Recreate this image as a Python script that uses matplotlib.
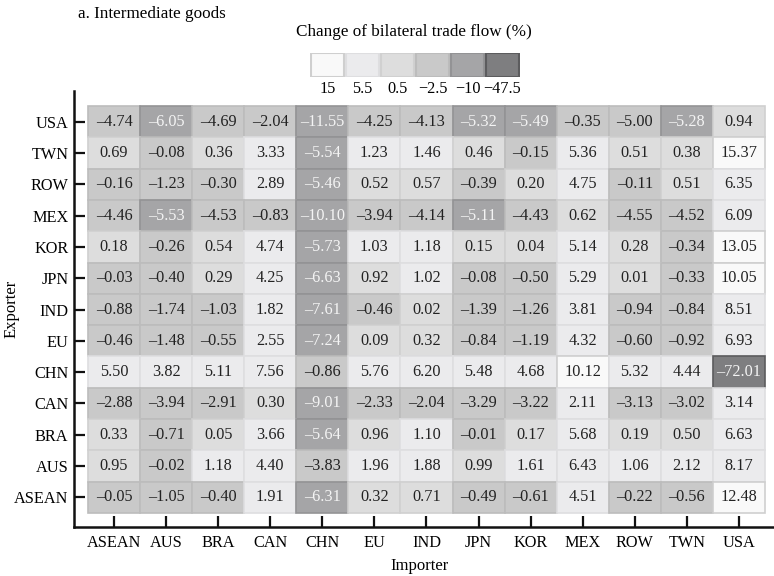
import numpy as np
import matplotlib
matplotlib.use("Agg")
import matplotlib.pyplot as plt

plt.rcParams['font.family'] = ['Liberation Serif', 'DejaVu Serif']

# countries (importer columns, exporter rows listed top to bottom)
importers = ["ASEAN", "AUS", "BRA", "CAN", "CHN", "EU", "IND", "JPN", "KOR", "MEX", "ROW", "TWN", "USA"]
exporters = ["USA", "TWN", "ROW", "MEX", "KOR", "JPN", "IND", "EU", "CHN", "CAN", "BRA", "AUS", "ASEAN"]

values = [
    [-4.74, -6.05, -4.69, -2.04, -11.55, -4.25, -4.13, -5.32, -5.49, -0.35, -5.00, -5.28, 0.94],
    [0.69, -0.08, 0.36, 3.33, -5.54, 1.23, 1.46, 0.46, -0.15, 5.36, 0.51, 0.38, 15.37],
    [-0.16, -1.23, -0.30, 2.89, -5.46, 0.52, 0.57, -0.39, 0.20, 4.75, -0.11, 0.51, 6.35],
    [-4.46, -5.53, -4.53, -0.83, -10.10, -3.94, -4.14, -5.11, -4.43, 0.62, -4.55, -4.52, 6.09],
    [0.18, -0.26, 0.54, 4.74, -5.73, 1.03, 1.18, 0.15, 0.04, 5.14, 0.28, -0.34, 13.05],
    [-0.03, -0.40, 0.29, 4.25, -6.63, 0.92, 1.02, -0.08, -0.50, 5.29, 0.01, -0.33, 10.05],
    [-0.88, -1.74, -1.03, 1.82, -7.61, -0.46, 0.02, -1.39, -1.26, 3.81, -0.94, -0.84, 8.51],
    [-0.46, -1.48, -0.55, 2.55, -7.24, 0.09, 0.32, -0.84, -1.19, 4.32, -0.60, -0.92, 6.93],
    [5.50, 3.82, 5.11, 7.56, -0.86, 5.76, 6.20, 5.48, 4.68, 10.12, 5.32, 4.44, -72.01],
    [-2.88, -3.94, -2.91, 0.30, -9.01, -2.33, -2.04, -3.29, -3.22, 2.11, -3.13, -3.02, 3.14],
    [0.33, -0.71, 0.05, 3.66, -5.64, 0.96, 1.10, -0.01, 0.17, 5.68, 0.19, 0.50, 6.63],
    [0.95, -0.02, 1.18, 4.40, -3.83, 1.96, 1.88, 0.99, 1.61, 6.43, 1.06, 2.12, 8.17],
    [-0.05, -1.05, -0.40, 1.91, -6.31, 0.32, 0.71, -0.49, -0.61, 4.51, -0.22, -0.56, 12.48],
]

# legend classes (label, lower bound), from high to low
class_labels = ["15", "5.5", "0.5", "\u22122.5", "\u221210", "\u221247.5"]
class_lower = [10, 1, 0, -5, -15, -1e9]
face_colors = ["#f9f9f9", "#ebebed", "#dddddd", "#c9c9c9", "#a5a5a7", "#7e7e80"]
edge_colors = ["#cfcfcf", "#dedee0", "#d0d0d0", "#bcbcbc", "#939395", "#5c5c5e"]
text_colors = ["#222222", "#222222", "#222222", "#222222", "#f4f4f4", "#f4f4f4"]


def classify(v):
    # -5.00 falls in the (-5, 0) class, so bounds are inclusive
    for k, lo in enumerate(class_lower):
        if v >= lo:
            return k
    return len(class_lower) - 1


fig = plt.figure(figsize=(7.74, 5.76), dpi=100)

ax = fig.add_axes([74 / 774, 1 - 527 / 576, 700 / 774, 436 / 576])
ny = len(exporters)
for i, row in enumerate(values):
    y = ny - 1 - i
    cls = [classify(v) for v in row]
    ax.bar(np.arange(len(importers)), 1, bottom=y - 0.5, width=1,
           color=[face_colors[c] for c in cls],
           edgecolor=[edge_colors[c] for c in cls], linewidth=1.2)
    for j, v in enumerate(row):
        ax.text(j, y, f"{v:.2f}".replace("-", "\u2013"), ha="center", va="center",
                fontsize=11.7, color=text_colors[cls[j]])

ax.set_xlim(-0.5 - 14 / 52.08, 12.5 + 9 / 52.08)
ax.set_ylim(-0.5 - 14 / 31.3, 12.5 + 15 / 31.3)
ax.set_xticks(np.arange(len(importers)))
ax.set_xticklabels(importers, fontsize=11.7)
ax.set_yticks(np.arange(ny))
ax.set_yticklabels(exporters[::-1], fontsize=11.7)
ax.tick_params(direction="in", length=8, width=1.6, color="#111111")
ax.tick_params(axis="x", pad=6)
ax.tick_params(axis="y", pad=4)
for s in ["top", "right"]:
    ax.spines[s].set_visible(False)
for s in ["left", "bottom"]:
    ax.spines[s].set_linewidth(1.8)
    ax.spines[s].set_color("#111111")
ax.set_xlabel("Importer", fontsize=12)
ax.set_ylabel("Exporter", fontsize=12)
ax.xaxis.set_label_coords((420 - 74) / 700, (527 - 558) / 436)
ax.yaxis.set_label_coords((20 - 74) / 700, 0.5)

# legend squares
lax = fig.add_axes([310 / 774, 1 - 77 / 576, 210 / 774, 24 / 576])
lax.bar(np.arange(len(class_labels)), 1, width=0.92, color=face_colors,
        edgecolor=edge_colors, linewidth=1.5)
lax.set_xlim(-0.5, len(class_labels) - 0.5)
lax.set_ylim(0, 1)
lax.set_xticks(np.arange(len(class_labels)))
lax.set_xticklabels(class_labels, fontsize=11.7)
lax.tick_params(length=0, pad=3)
lax.set_yticks([])
for s in lax.spines.values():
    s.set_visible(False)

fig.text(414 / 774, 1 - 32 / 576, "Change of bilateral trade flow (%)",
         ha="center", va="center", fontsize=12.3)
fig.text(78 / 774, 1 - 14 / 576, "a. Intermediate goods",
         ha="left", va="center", fontsize=12.3)

fig.savefig("out.png", dpi=100)
